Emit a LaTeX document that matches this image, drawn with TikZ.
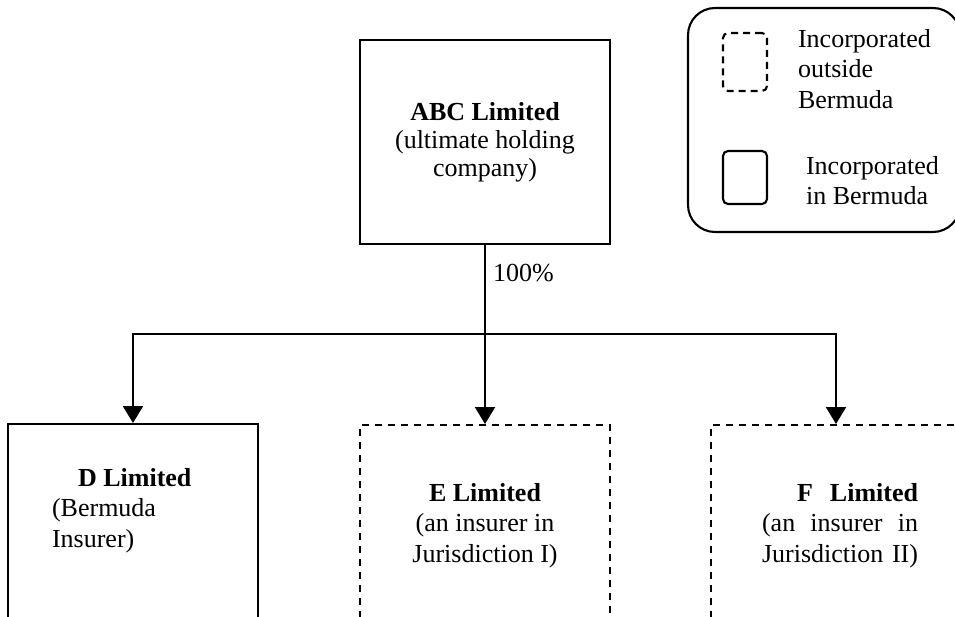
\documentclass[tikz,border=0pt]{standalone}
\usepackage{fontspec}
\setmainfont{Liberation Serif}
\usetikzlibrary{arrows.meta}
\begin{document}
\begin{tikzpicture}[x=1pt, y=-1pt, line width=2.1pt, font=\fontsize{26}{30.5}\selectfont]
            \tikzstyle{bermuda box} = [draw, minimum width=250pt, inner sep=0pt]
            \tikzstyle{offshore box} = [bermuda box, dash pattern=on 7pt off 6pt]
            \tikzstyle{firm text} = [inner sep=0pt, anchor=north]
            \tikzstyle{owns} = [-{Triangle[width=20pt, length=17pt]}]
            \useasboundingbox (0, 0) rectangle (955, 617);
            % holding company
            \node[bermuda box, minimum height=204pt, align=center, font=\fontsize{26}{28}\selectfont] (ABC) at (485, 142)
                {\textbf{ABC Limited}\\(ultimate holding\\company)};
            % subsidiaries
            \node[bermuda box, anchor=north, minimum height=250pt] (D) at (133, 423) {};
            \node[offshore box, anchor=north, minimum height=250pt] (E) at (485, 424) {};
            \node[offshore box, anchor=north, minimum height=250pt] (F) at (836, 424) {};
            \node[firm text, anchor=north west, align=left] (Dname) at (51, 467)
                {\hspace*{26pt}\textbf{D Limited}\\(Bermuda\\Insurer)};
            \node[firm text, align=center] (Ename) at (485, 482)
                {\textbf{E Limited}\\(an insurer in\\Jurisdiction I)};
            \node[firm text, anchor=north west, text width=156pt, align=left] (Fname) at (761, 482)
                {\hspace*{\fill}\textbf{F\hspace{17pt}Limited}\\(an\hfill insurer\hfill in\\Jurisdiction II)};
            % ownership
            \coordinate (split) at (485, 334);
            \draw (ABC.south) -- (split);
            \node[anchor=base west, inner sep=0pt] (share) at (492, 282) {100\%};
            \foreach \firm in {D, E, F} {
                \draw[owns] (split) -| (\firm.north);
            }
            % key
            \node[draw, rounded corners=27pt, minimum width=272pt, minimum height=224pt] (key) at (824, 120) {};
            \node[draw, dash pattern=on 7pt off 5pt, rounded corners=5pt, minimum width=44pt, minimum height=58pt] (keyout) at (745, 62) {};
            \node[draw, rounded corners=5pt, minimum width=44pt, minimum height=53pt] (keyin) at (745, 177.5) {};
            \node[firm text, anchor=north west, align=left] (keyouttext) at (797, 28) {Incorporated\\outside\\Bermuda};
            \node[firm text, anchor=north west, align=left] (keyintext) at (805, 155) {Incorporated\\in Bermuda};
        \end{tikzpicture}
\end{document}
